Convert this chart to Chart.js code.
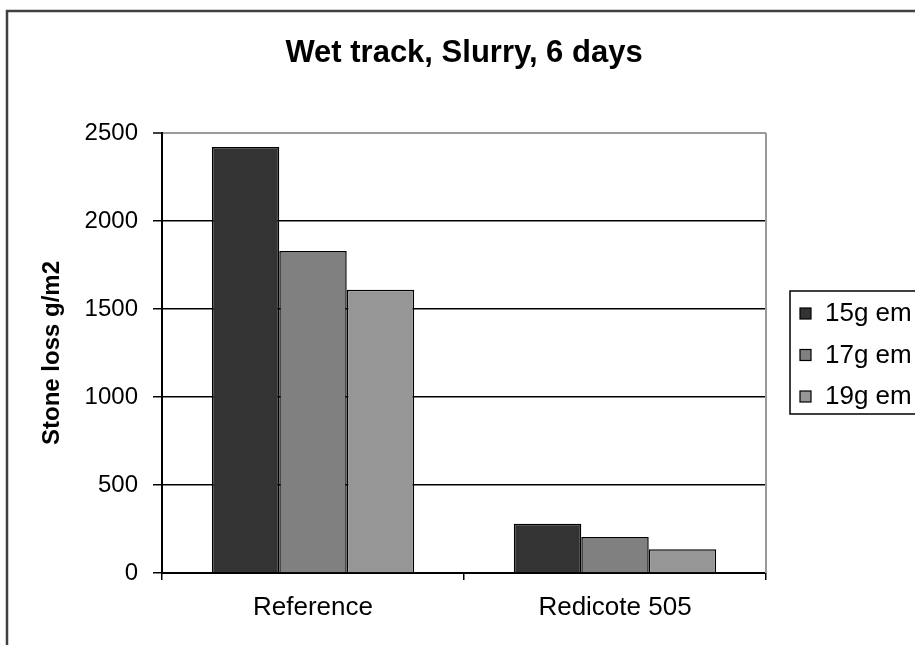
<!DOCTYPE html>
<html>
<head>
<meta charset="utf-8">
<title>Wet track, Slurry, 6 days</title>
<script src="https://cdn.jsdelivr.net/npm/chart.js@4/dist/chart.umd.min.js"></script>
<style>
    html, body { margin: 0; padding: 0; background: #fff; overflow: hidden; }
    #wrap { width: 915px; height: 645px; position: relative; }
</style>
</head>
<body>
<div id="wrap"><canvas id="lossChart"></canvas></div>
<script>
// === data ===
const categories = ['Reference', 'Redicote 505'];
const seriesNames = ['15g em', '17g em', '19g em'];
const em15 = [2420, 280];
const em17 = [1830, 205];
const em19 = [1610, 135];
const yTicks = [0, 500, 1000, 1500, 2000, 2500];

const seriesColors = ['#333333', '#808080', '#969696'];
const FONT = "'Liberation Sans', Arial, sans-serif";

// outer frame, plot frame (right edge) and the boxed legend
const excelLook = {
    id: 'excelLook',
    beforeDraw(chart) {
        const ctx = chart.ctx;
        ctx.save();
        ctx.fillStyle = '#fff';
        ctx.fillRect(0, 0, chart.width, chart.height);
        ctx.restore();
    },
    afterDraw(chart) {
        const ctx = chart.ctx;
        const area = chart.chartArea;
        ctx.save();

        // chart border: only left and top are inside the picture
        ctx.strokeStyle = '#404040';
        ctx.lineWidth = 2.5;
        ctx.beginPath();
        ctx.moveTo(7, chart.height + 5);
        ctx.lineTo(7, 11);
        ctx.lineTo(chart.width + 5, 11);
        ctx.stroke();

        // plot area right edge
        ctx.strokeStyle = '#9a9a9a';
        ctx.lineWidth = 2;
        ctx.beginPath();
        ctx.moveTo(area.right, area.top);
        ctx.lineTo(area.right, area.bottom);
        ctx.stroke();

        // legend box, cut off at the right edge
        const lx = area.right + 24, ly = 291, rowH = 41.5;
        const n = chart.data.datasets.length;
        const lb = ly + 22 + (n - 1) * rowH + 18;
        ctx.strokeStyle = '#000';
        ctx.lineWidth = 1.5;
        ctx.beginPath();
        ctx.moveTo(chart.width + 5, ly);
        ctx.lineTo(lx, ly);
        ctx.lineTo(lx, lb);
        ctx.lineTo(chart.width + 5, lb);
        ctx.stroke();

        ctx.font = '26px ' + FONT;
        ctx.textBaseline = 'middle';
        ctx.textAlign = 'left';
        chart.data.datasets.forEach((ds, i) => {
            const cy = ly + 22 + i * rowH;
            ctx.fillStyle = ds.backgroundColor;
            ctx.fillRect(lx + 10, cy - 5, 11, 11);
            ctx.lineWidth = 1.2;
            ctx.strokeRect(lx + 10, cy - 5, 11, 11);
            ctx.fillStyle = '#000';
            ctx.fillText(ds.label, lx + 35, cy + 1);
        });

        // keep the right edge clean
        ctx.fillStyle = '#fff';
        ctx.fillRect(chart.width - 6, 14, 6, ly - 16);
        ctx.fillRect(chart.width - 6, lb + 3, 6, chart.height - lb);
        ctx.restore();
    }
};

// === chart ===
const ctx = document.getElementById('lossChart').getContext('2d');
const chart = new Chart(ctx, {
    type: 'bar',
    data: {
        labels: categories,
        datasets: [em15, em17, em19].map((vals, i) => ({
            label: seriesNames[i],
            data: vals,
            backgroundColor: seriesColors[i],
            borderColor: '#000',
            borderWidth: 1.5,
            categoryPercentage: 0.67,
            barPercentage: 1.0
        }))
    },
    options: {
        responsive: true,
        maintainAspectRatio: false,
        animation: false,
        layout: { padding: { left: 0, right: 149, top: 0, bottom: 0 } },
        plugins: {
            legend: { display: false },
            tooltip: { enabled: false },
            title: {
                display: true,
                fullSize: false,
                text: 'Wet track, Slurry, 6 days',
                color: '#000',
                font: { family: FONT, size: 31, weight: 'bold', lineHeight: 1.2 },
                padding: { top: 35, bottom: 60.8 }
            }
        },
        scales: {
            x: {
                grid: {
                    display: true,
                    offset: true,
                    drawOnChartArea: false,
                    drawTicks: true,
                    tickLength: 7,
                    color: '#000',
                    lineWidth: 1.5
                },
                border: { display: true, color: '#000', width: 2 },
                ticks: {
                    color: '#000',
                    padding: 12,
                    maxRotation: 0,
                    font: { family: FONT, size: 26 }
                },
                afterFit(scale) { scale.height = 72; }
            },
            y: {
                min: 0,
                max: 2500,
                afterBuildTicks(scale) {
                    scale.ticks = yTicks.map(v => ({ value: v }));
                },
                grid: {
                    color: c => (c.tick && c.tick.value === 2500) ? '#9a9a9a' : '#000',
                    lineWidth: c => (c.tick && c.tick.value === 2500) ? 2 : 1.5,
                    tickColor: '#000',
                    tickWidth: 1.5,
                    tickLength: 9
                },
                border: { display: true, color: '#000', width: 2 },
                ticks: {
                    color: '#000',
                    padding: 15,
                    font: { family: FONT, size: 24 },
                    callback: v => String(v)
                },
                title: {
                    display: true,
                    text: 'Stone loss g/m2',
                    color: '#000',
                    font: { family: FONT, size: 24, weight: 'bold', lineHeight: 1.2 },
                    padding: { top: 38, bottom: 0 }
                },
                afterFit(scale) { scale.width = 162; }
            }
        }
    },
    plugins: [excelLook]
});
</script>
</body>
</html>
